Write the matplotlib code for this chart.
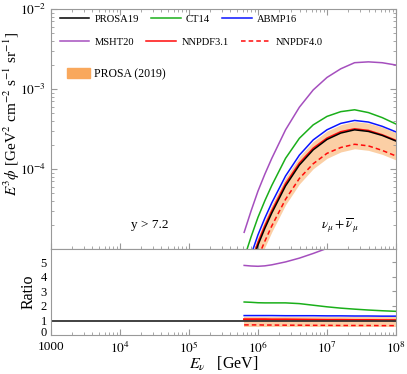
import numpy as np
import matplotlib
matplotlib.use("Agg")
import matplotlib.pyplot as plt
import matplotlib.transforms as mtransforms
from matplotlib.lines import Line2D
from matplotlib.patches import Patch
from matplotlib.ticker import LogLocator, NullFormatter, FixedLocator, FixedFormatter

plt.rcParams['font.family'] = ['Liberation Serif', 'DejaVu Serif']
plt.rcParams['mathtext.fontset'] = 'stix'

# ---- data ----
logE = [5.8, 5.9, 6.0, 6.1, 6.2, 6.4, 6.6, 6.8, 7.0, 7.2, 7.4, 7.6, 7.8, 8.0]
log_prosa19 = [-5.47, -5.20, -4.95, -4.74, -4.55, -4.21, -3.95, -3.76, -3.63, -3.55, -3.51, -3.53, -3.58, -3.65]
ratio_msht20 = [4.78, 4.74, 4.72, 4.75, 4.82, 5.02, 5.28, 5.60, 5.95, 6.35, 6.90, 7.40, 8.10, 8.90]
ratio_ct14 = [2.27, 2.25, 2.22, 2.21, 2.21, 2.21, 2.16, 2.05, 1.94, 1.85, 1.78, 1.72, 1.67, 1.63]
ratio_abmp16 = [1.34, 1.34, 1.34, 1.34, 1.34, 1.33, 1.33, 1.33, 1.32, 1.32, 1.31, 1.31, 1.30, 1.30]
ratio_nnpdf31 = [1.08, 1.08, 1.08, 1.08, 1.07, 1.07, 1.06, 1.05, 1.04, 1.04, 1.03, 1.03, 1.02, 1.02]
ratio_nnpdf40 = [0.70, 0.70, 0.70, 0.69, 0.69, 0.68, 0.68, 0.67, 0.67, 0.66, 0.66, 0.66, 0.65, 0.65]
ratio_band_lo = [0.58, 0.58, 0.58, 0.58, 0.58, 0.58, 0.58, 0.58, 0.58, 0.58, 0.58, 0.58, 0.58, 0.58]
ratio_band_hi = [1.27, 1.27, 1.27, 1.27, 1.27, 1.27, 1.27, 1.27, 1.27, 1.27, 1.27, 1.27, 1.27, 1.27]

E = 10.0 ** np.array(logE)
prosa19 = 10.0 ** np.array(log_prosa19)

c_purple = '#A54FBE'
c_green = '#1AAF1A'
c_blue = '#0A14FF'
c_red = '#FF0A0A'
c_orange = '#F9A85C'
c_spine = '#999999'

fig = plt.figure(figsize=(4.07, 3.74), dpi=100)
ax = fig.add_axes([0.125, 0.334, 0.848, 0.642])
axr = fig.add_axes([0.125, 0.104, 0.848, 0.230])

models = [
    ('MSHT20', ratio_msht20, c_purple, '-'),
    ('CT14', ratio_ct14, c_green, '-'),
    ('ABMP16', ratio_abmp16, c_blue, '-'),
]

# top panel
ax.fill_between(E, prosa19 * np.array(ratio_band_lo), prosa19 * np.array(ratio_band_hi),
                color=c_orange, alpha=0.55, lw=0)
for name, r, c, ls in models:
    ax.plot(E, prosa19 * np.array(r), color=c, ls=ls, lw=1.1)
ax.plot(E, prosa19 * np.array(ratio_nnpdf31), color=c_red, lw=1.1)
ax.plot(E, prosa19 * np.array(ratio_nnpdf40), color=c_red, lw=1.1, ls=(0, (3, 2)))
ax.plot(E, prosa19, color='black', lw=1.1)

ax.set_xscale('log')
ax.set_yscale('log')
ax.set_xlim(1e3, 1e8)
ax.set_ylim(1e-5, 1e-2)
ax.yaxis.set_major_locator(FixedLocator([1e-4, 1e-3, 1e-2]))
ax.yaxis.set_major_formatter(FixedFormatter([r'$10^{-4}$', r'$10^{-3}$', r'$10^{-2}$']))
ax.yaxis.set_minor_locator(LogLocator(base=10, subs=np.arange(2, 10)))
ax.yaxis.set_minor_formatter(NullFormatter())
ax.xaxis.set_minor_locator(LogLocator(base=10, subs=np.arange(2, 10)))
ax.xaxis.set_minor_formatter(NullFormatter())
ax.set_xticklabels([])
ax.tick_params(which='both', direction='in', top=True, right=True, color=c_spine,
               labelsize=9.5, labelbottom=False)
ax.tick_params(which='major', length=4)
ax.tick_params(which='minor', length=2)
ax.set_ylabel(r'$E^3\phi$ [GeV$^2$ cm$^{-2}$ s$^{-1}$ sr$^{-1}$]', fontsize=11, labelpad=1)
ax.yaxis.set_label_coords(-0.085, 0.565)
for s in ax.spines.values():
    s.set_color(c_spine)

ax.text(0.287, 0.10, 'y > 7.2', transform=ax.transAxes, ha='center', va='center', fontsize=9.5)
ax.text(0.838, 0.10, r'$\nu_\mu + \overline{\nu}_\mu$', transform=ax.transAxes,
        ha='center', va='center', fontsize=9.5)

# legends
row1 = [Line2D([], [], color='black', lw=1.1), Line2D([], [], color=c_green, lw=1.1),
        Line2D([], [], color=c_blue, lw=1.1)]
row2 = [Line2D([], [], color=c_purple, lw=1.1), Line2D([], [], color=c_red, lw=1.1),
        Line2D([], [], color=c_red, lw=1.1, ls=(0, (3, 2)))]
lkw = dict(ncol=3, frameon=False, fontsize=7.6, handlelength=2.8, handletextpad=0.5,
           columnspacing=1.15, borderpad=0, borderaxespad=0, loc='center left')
leg1 = ax.legend(row1, ['PROSA19', 'CT14', 'ABMP16'], bbox_to_anchor=(0.026, 0.958), **lkw)
ax.add_artist(leg1)
leg2 = ax.legend(row2, ['MSHT20', 'NNPDF3.1', 'NNPDF4.0'], bbox_to_anchor=(0.026, 0.8625), **lkw)
ax.add_artist(leg2)
leg3 = ax.legend([Patch(color=c_orange)], ['PROSA (2019)'], frameon=False, fontsize=8.5,
                 handlelength=2.0, handleheight=0.9, handletextpad=0.35, borderpad=0,
                 borderaxespad=0, loc='center left', bbox_to_anchor=(0.046, 0.729))

# ratio panel
axr.fill_between(E, ratio_band_lo, ratio_band_hi, color=c_orange, alpha=0.55, lw=0)
for name, r, c, ls in models:
    axr.plot(E, r, color=c, ls=ls, lw=1.1)
axr.plot(E, ratio_nnpdf31, color=c_red, lw=1.6)
axr.plot(E, ratio_nnpdf40, color=c_red, lw=1.1, ls=(0, (3, 2)))
axr.axhline(1.0, color='#333333', lw=1.3)

axr.set_xscale('log')
axr.set_xlim(1e3, 1e8)
axr.set_ylim(0, 5.9)
axr.set_xticks([1e3, 1e4, 1e5, 1e6, 1e7, 1e8])
axr.set_xticklabels(['1000', r'$10^4$', r'$10^5$', r'$10^6$', r'$10^7$', r'$10^8$'])
axr.xaxis.set_minor_locator(LogLocator(base=10, subs=np.arange(2, 10)))
axr.xaxis.set_minor_formatter(NullFormatter())
axr.set_yticks([0, 1, 2, 3, 4, 5])
axr.tick_params(which='both', direction='in', color=c_spine, labelsize=9.5)
axr.tick_params(axis='y', left=False, right=True, length=3, pad=3, labelsize=9)
axr.tick_params(axis='x', which='major', length=4, pad=4)
axr.tick_params(axis='x', which='minor', length=2)
axr.set_ylabel('Ratio', fontsize=11.5, labelpad=3)
axr.set_xlabel(r'$E_\nu$   [GeV]', fontsize=11.5, va='center')
axr.xaxis.set_label_coords(0.5, -0.33)
for s in axr.spines.values():
    s.set_color(c_spine)
lab0 = axr.yaxis.get_major_ticks()[0].label1
lab0.set_transform(lab0.get_transform() +
                   mtransforms.ScaledTranslation(0, 2.5 / 72, fig.dpi_scale_trans))

fig.savefig('out.png', dpi=100)
